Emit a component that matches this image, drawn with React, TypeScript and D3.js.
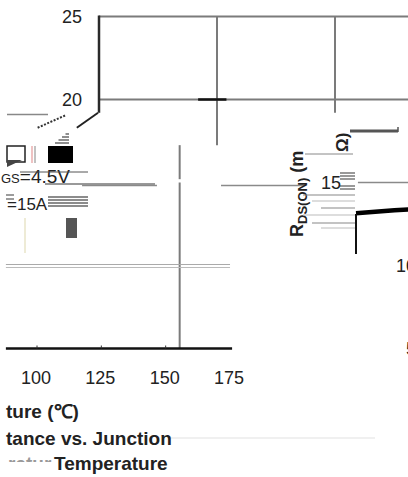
import React from 'react';
import * as d3 from 'd3';

// values
const topYTicks = [25, 20];
const topGridTemps = [-25, 0];
const xTicks = [100, 125, 150, 175];
const midYTicks = [15];
const farYTicks = [10, 5];
const legendLines = ['GS=4.5V', '=15A'];
const titleLines = ['ture (\u2103)', 'tance vs. Junction', 'Temperature'];

// thick curve piece on the right (Tj, RDS(on) mOhm)
const curveTemps = [150, 165, 175];
const curveRds = [13.15, 13.33, 13.4];
// two short curve pieces left of the top axis
const dashTemps = [-63, -57];
const dashRds = [18.3, 19.06];
const soloTemps = [-54.7, -50.2];
const soloRds = [18.3, 19.2];
// pieces of the 15 mOhm grid line (lower panel temperatures)
const grid15Segs = [[117.9, 147], [171.9, 204.2], [225.1, 244.6]];

const W = 408;
const H = 477;
const grid = '#7b7b7b';
const font = '"Liberation Sans", Arial, sans-serif';

const App = () => {
  const y = d3.scaleLinear().domain([5, 25]).range([348.5, 16.5]);
  const x = d3.scaleLinear().domain([100, 175]).range([36, 229]);
  const gridX = d3.scaleLinear().domain([100, 175]).range([51, 244]);
  const topX = d3.scaleLinear().domain([-50, 0]).range([99, 335]);
  const rightX = d3.scaleLinear().domain([150, 175]).range([356, 420]);

  const line = d3.line<[number, number]>();
  const curve = line(curveTemps.map((t, i) => [rightX(t), y(curveRds[i])]));
  const dash = line(dashTemps.map((t, i) => [topX(t), y(dashRds[i])]));
  const solo = line(soloTemps.map((t, i) => [topX(t), y(soloRds[i])]));

  return (
    <svg width={W} height={H} style={{ position: 'absolute', left: 0, top: 0, background: '#fff' }}
      fontFamily={font}>
      <defs>
        <clipPath id="ghost"><rect x={0} y={457} width={52} height={5} /></clipPath>
      </defs>

      {/* top panel */}
      {topYTicks.map((v) => (
        <line key={'h' + v} x1={topX(-50)} x2={W} y1={y(v)} y2={y(v)} stroke={grid} strokeWidth={2} />
      ))}
      {topGridTemps.map((t, i) => (
        <line key={'v' + t} x1={topX(t)} x2={topX(t)} y1={y(25)} y2={y(i === 0 ? 17.25 : 19.2)}
          stroke={grid} strokeWidth={2} />
      ))}
      <line x1={topX(-50)} x2={topX(-50)} y1={y(25) - 1} y2={y(19.2)} stroke="#2a2a2a" strokeWidth={2.5} />
      <line x1={topX(-29)} x2={topX(-23)} y1={y(20)} y2={y(20)} stroke="#111" strokeWidth={2.5} />
      {topYTicks.map((v) => (
        <text key={'t' + v} x={82} y={y(v) + 6.5} fontSize={18} textAnchor="end" fill="#222">{v}</text>
      ))}
      <line x1={7} x2={48} y1={y(19.1)} y2={y(19.1)} stroke="#888" strokeWidth={1.5} />
      <path d={dash ?? ''} fill="none" stroke="#333" strokeWidth={2} strokeDasharray="2 1.5" />
      <path d={solo ?? ''} fill="none" stroke="#222" strokeWidth={2} />
      {[0, 1, 2, 3, 4].map((k) => (
        <line key={'st' + k} x1={69 - k * 3.5} x2={69} y1={131 + k * 3} y2={131 + k * 3} stroke="#444" strokeWidth={1.2} />
      ))}

      {/* legend fragments */}
      <rect x={7} y={146} width={18} height={16} fill="none" stroke="#222" strokeWidth={1.5} />
      <path d="M7,167 L22,160 L7,160 Z" fill="#444" />
      <line x1={32} x2={32} y1={146} y2={163} stroke="#e59a9a" strokeWidth={1.2} />
      <line x1={35} x2={35} y1={146} y2={163} stroke="#999" strokeWidth={1.2} />
      <rect x={48} y={146} width={25} height={17} fill="#000" />
      <text x={1} y={183} fontSize={19} fill="#222">
        <tspan fontSize={13}>{legendLines[0].slice(0, 2)}</tspan>{legendLines[0].slice(2)}
      </text>
      <line x1={20} x2={88} y1={172} y2={172} stroke="#555" strokeWidth={1} />
      <line x1={45} x2={155} y1={184} y2={184} stroke="#999" strokeWidth={2} />
      {[195, 199].map((yy) => (
        <line key={'ll' + yy} x1={6} x2={14} y1={yy} y2={yy} stroke="#666" strokeWidth={1.3} />
      ))}
      <text x={7} y={210} fontSize={17} fill="#222">{legendLines[1]}</text>
      {[197, 200, 203, 206].map((yy) => (
        <line key={'lg' + yy} x1={48} x2={88} y1={yy} y2={yy} stroke="#666" strokeWidth={1.3} />
      ))}
      <rect x={66} y={218} width={11} height={20} fill="#555" />
      <line x1={25} x2={25} y1={218} y2={253} stroke="#e8e4c8" strokeWidth={1.5} />

      {/* lower panel */}
      {grid15Segs.map(([a, b], i) => (
        <line key={'g15' + i} x1={x(a)} x2={x(b)} y1={y(15) + (i === 2 ? 0 : 3)} y2={y(15) + (i === 2 ? 0 : 3)}
          stroke="#8a8a8a" strokeWidth={1.5} />
      ))}
      <line x1={gridX(150)} x2={gridX(150)} y1={y(17.25)} y2={y(15.2)} stroke={grid} strokeWidth={2} />
      <line x1={gridX(150)} x2={gridX(150)} y1={y(15)} y2={y(5)} stroke={grid} strokeWidth={2} />
      <line x1={x(88.3)} x2={x(175.4)} y1={y(10) - 1} y2={y(10) - 1} stroke="#aaa" strokeWidth={1} />
      <line x1={x(88.3)} x2={x(175.4)} y1={y(10) + 2} y2={y(10) + 2} stroke="#bbb" strokeWidth={1} />
      <line x1={x(88.3)} x2={x(176.2)} y1={y(5)} y2={y(5)} stroke="#111" strokeWidth={2.5} />
      {xTicks.slice(0, 3).map((t) => (
        <line key={'xt' + t} x1={x(t) + 1} x2={x(t) + 1} y1={y(5) - 3} y2={y(5)} stroke="#333" strokeWidth={1} />
      ))}
      {xTicks.map((t) => (
        <text key={'xl' + t} x={x(t)} y={384} fontSize={18} textAnchor="middle" fill="#222">{t}</text>
      ))}

      {/* right fragments */}
      <text transform="translate(303,237) rotate(-90)" fontSize={18} fontWeight="bold" fill="#222">
        R<tspan fontSize={13} dy={4}>DS(ON)</tspan><tspan dy={-4}> (m</tspan>
      </text>
      <text transform="translate(348,152) rotate(-90)" fontSize={17} fontWeight="bold" fill="#222">{'\u03a9)'}</text>
      <line x1={350} x2={398} y1={131} y2={131} stroke="#555" strokeWidth={3} />
      <line x1={398} x2={398} y1={127} y2={132} stroke="#555" strokeWidth={1.5} />
      <line x1={305} x2={353} y1={154} y2={154} stroke="#888" strokeWidth={1} />
      {[173, 176, 179, 186, 189].map((yy) => (
        <line key={'s' + yy} x1={340} x2={355} y1={yy} y2={yy} stroke="#777" strokeWidth={1.5} />
      ))}
      {[195, 201, 208, 215, 223, 228].map((yy, i) => (
        <line key={'r' + yy} x1={303 + (i % 3) * 9} x2={355} y1={yy} y2={yy} stroke={i % 2 ? '#bbb' : '#888'} strokeWidth={1.2} />
      ))}
      {midYTicks.map((v) => (
        <text key={'m' + v} x={341} y={y(v) + 6} fontSize={18} textAnchor="end" fill="#222">{v}</text>
      ))}
      <path d={curve ?? ''} fill="none" stroke="#000" strokeWidth={4.5} />
      <line x1={rightX(150)} x2={rightX(150)} y1={y(13.1)} y2={y(10.7)} stroke="#111" strokeWidth={2} />
      {farYTicks.map((v) => (
        <text key={'f' + v} x={416} y={y(v) + 6} fontSize={18} textAnchor="end" fill="#222">{v}</text>
      ))}

      {/* caption pieces */}
      <line x1={170} x2={375} y1={438} y2={438} stroke="#f0f0f0" strokeWidth={2} />
      <text x={6} y={418} fontSize={19} fontWeight="bold" fill="#222">{titleLines[0]}</text>
      <text x={6} y={445} fontSize={19} fontWeight="bold" fill="#222">{titleLines[1]}</text>
      <text x={8} y={470} fontSize={19} fontWeight="bold" fill="#999" clipPath="url(#ghost)">rature</text>
      <text x={54} y={470} fontSize={19} fontWeight="bold" fill="#222">{titleLines[2]}</text>
    </svg>
  );
};

export default App;
